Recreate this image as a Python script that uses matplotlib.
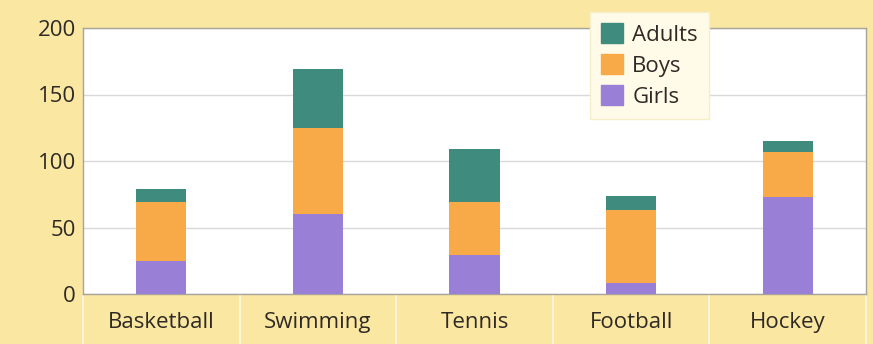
import matplotlib
matplotlib.use("Agg")
import matplotlib.pyplot as plt
from matplotlib.patches import Patch
import numpy as np

categories = ["Basketball", "Swimming", "Tennis", "Football", "Hockey"]
girls = [25, 60, 29, 8, 73]
boys = [44, 65, 40, 55, 34]
adults = [10, 44, 40, 11, 8]
yticks = [0, 50, 100, 150, 200]

c_girls = "#9a7fd6"
c_boys = "#f9aa48"
c_adults = "#3f8c7e"
bg = "#fae7a2"
txt = "#2f2a25"

plt.rcParams['font.family'] = ['Open Sans', 'DejaVu Sans']

fig = plt.figure(figsize=(8.73, 3.44), dpi=100, facecolor=bg)
ax = fig.add_axes([83/873, 1-294/344, 783/873, 266/344])
ax.set_facecolor("white")

x = np.arange(len(categories))
w = 0.32
g = np.array(girls); b = np.array(boys); a = np.array(adults)
ax.bar(x, g, w, color=c_girls, zorder=3)
ax.bar(x, b, w, bottom=g, color=c_boys, zorder=3)
ax.bar(x, a, w, bottom=g + b, color=c_adults, zorder=3)

ax.set_xlim(-0.5, len(categories) - 0.5)
ax.set_ylim(0, 200)
ax.set_yticks(yticks)
ax.set_yticklabels([str(v) for v in yticks], fontsize=16, color=txt)
ax.tick_params(axis='y', length=0, pad=5)
ax.grid(axis='y', color="#d9d9d9", linewidth=1, zorder=0)
ax.set_xticks([])
for s in ax.spines.values():
    s.set_color("#a8a49a")
    s.set_linewidth(1)

# category label boxes below the axis
for i, c in enumerate(categories):
    ax.text(i, -0.108, c, transform=ax.get_xaxis_transform(), ha='center', va='center',
            fontsize=16, color=txt, clip_on=False)
for bnd in np.arange(-0.5, len(categories), 1.0):
    ax.plot([bnd, bnd], [-0.008, -0.19], transform=ax.get_xaxis_transform(),
            color="#fff6d8", linewidth=1.5, clip_on=False)

handles = [Patch(color=c_adults, label="Adults"),
           Patch(color=c_boys, label="Boys"),
           Patch(color=c_girls, label="Girls")]
leg = fig.legend(handles=handles, loc='upper left', bbox_to_anchor=(590/873, 1-12/344),
                 fontsize=16, frameon=True, fancybox=False, handlelength=1.0,
                 handleheight=1.0, handletextpad=0.4, labelspacing=0.38,
                 borderpad=0.5, borderaxespad=0, labelcolor=txt)
leg.get_frame().set_facecolor("#fffbe8")
leg.get_frame().set_edgecolor("#f6eec8")
leg.get_frame().set_alpha(1)

fig.savefig("out.png", dpi=100, facecolor=bg)
